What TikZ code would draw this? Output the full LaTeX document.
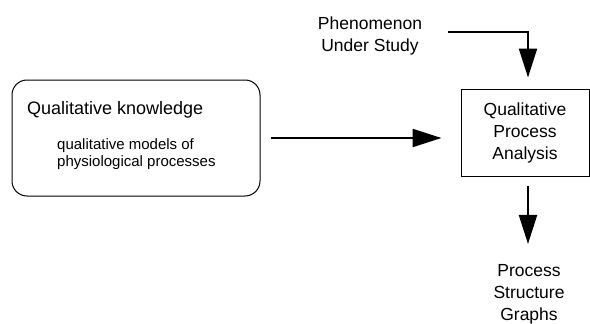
\documentclass[tikz,border=0pt]{standalone}
\usepackage{fontspec}
\setmainfont{Liberation Sans}
\usetikzlibrary{arrows.meta,calc}
\tikzset{
  thinbox/.style={draw, line width=1pt},
  lbl/.style={inner sep=0pt, align=center, font=\fontsize{17.5}{22}\selectfont},
  bigarrow/.style={line width=2.2pt, -{Triangle[length=29pt,width=18pt]}},
}
\begin{document}
\begin{tikzpicture}[x=1pt,y=-1pt]
\useasboundingbox (0,0) rectangle (590,324);
% Qualitative knowledge box
\node[thinbox, rounded corners=15pt, minimum width=248pt, minimum height=116pt, inner sep=0pt] (qk) at (136,138) {};
\node[inner sep=0pt, anchor=west, font=\fontsize{18}{22}\selectfont] (qkt) at (27,110) {Qualitative knowledge};
\node[inner sep=0pt, anchor=west, align=left, font=\fontsize{15}{17}\selectfont] (qks) at (57,154) {qualitative models of\\physiological processes};
% QPA box
\node[thinbox, minimum width=128pt, minimum height=87pt, inner sep=0pt, align=center, font=\fontsize{17.5}{22}\selectfont] (qpa) at (525,132.5) {Qualitative\\Process\\Analysis};
% Phenomenon
\node[lbl] (phen) at (370,36) {Phenomenon\\Under Study};
% Process Structure Graphs
\node[lbl] (psg) at (529,294) {Process\\Structure\\Graphs};
\coordinate (ps) at (448,32);
% arrows
\draw[bigarrow, shorten <=10pt, shorten >=19pt] (qk.east) -- (qk.east -| qpa.west);
\draw[bigarrow, shorten >=11pt] (ps) -| ([xshift=3pt]qpa.north);
\draw[bigarrow, shorten <=9.5pt, shorten >=20pt] ([xshift=3pt]qpa.south) -- ([xshift=3pt]qpa.south |- psg.north);
\end{tikzpicture}
\end{document}
